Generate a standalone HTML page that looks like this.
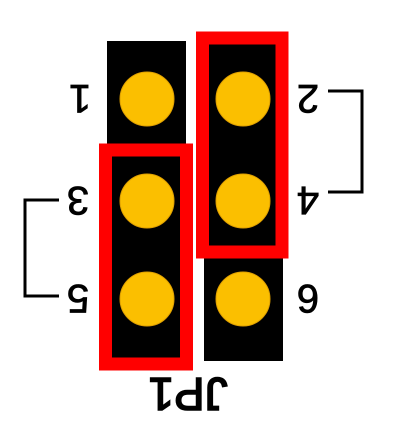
<!DOCTYPE html>
<html><head><meta charset="utf-8"><style>html,body{margin:0;padding:0;background:#fff}</style></head>
<body>
<svg width="415" height="433" viewBox="0 0 415 433" style="display:block">
<rect x="107" y="41" width="79" height="320" fill="#000"/>
<rect x="204" y="250" width="79" height="111" fill="#000"/>
<rect x="105.5" y="150" width="81" height="214" fill="#000" stroke="#ff0000" stroke-width="13"/>
<rect x="202.5" y="38" width="79.5" height="214" fill="#000" stroke="#ff0000" stroke-width="13"/>
<g fill="#fbbf00" stroke="#e0a000" stroke-width="1">
<circle cx="147" cy="99" r="27"/>
<circle cx="147" cy="201" r="27"/>
<circle cx="147" cy="299" r="27"/>
<circle cx="243" cy="99" r="27"/>
<circle cx="243" cy="201" r="27"/>
<circle cx="243" cy="299" r="27"/>
</g>
<g font-family="Liberation Sans, sans-serif" font-size="40" text-anchor="middle" fill="#000" stroke="#000" stroke-width="0.8">
<text transform="translate(80,99) rotate(180)" dy="14">1</text>
<text transform="translate(78,201) rotate(180)" dy="14">3</text>
<text transform="translate(78,299) rotate(180)" dy="14">5</text>
<text transform="translate(308,99) rotate(180)" dy="14">2</text>
<text transform="translate(308,201) rotate(180)" dy="14">4</text>
<text transform="translate(308,299) rotate(180)" dy="14">6</text>
<text transform="translate(188,395) rotate(180)" dy="17" font-size="46" stroke-width="1.6">JP1</text>
</g>
<polyline points="59,200 25,200 25,296 59,296" fill="none" stroke="#000" stroke-width="3"/>
<polyline points="328,91 362,91 362,192 328,192" fill="none" stroke="#000" stroke-width="3"/>
</svg>
</body></html>
